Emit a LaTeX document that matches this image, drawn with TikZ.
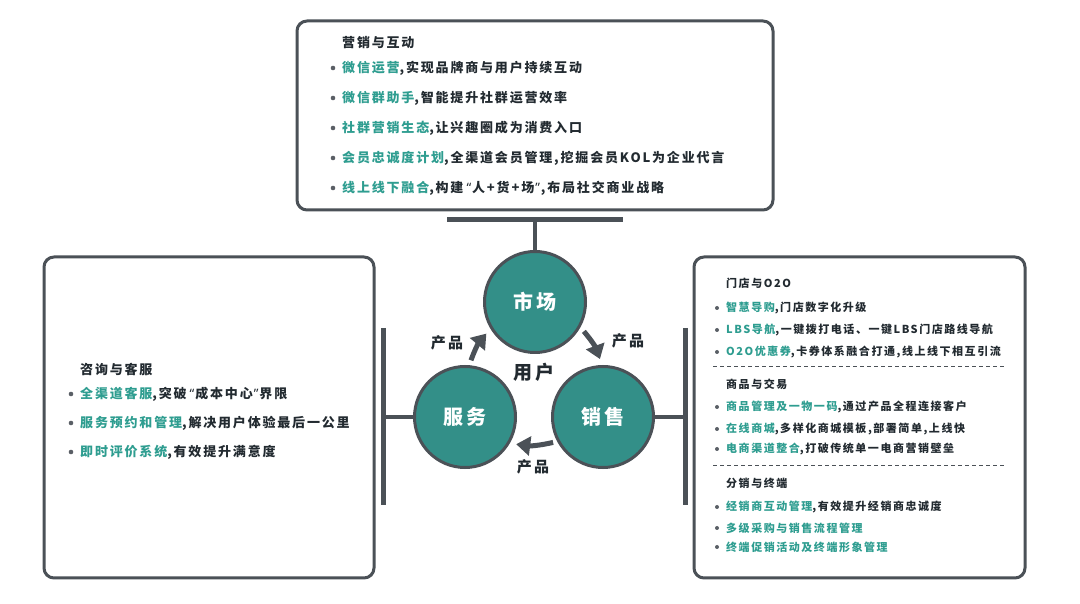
\documentclass[tikz,border=0pt]{standalone}
\usepackage{fontspec}
\setmainfont{Noto Sans CJK SC}[LetterSpace=14]
\newfontfamily\latn{Noto Sans}[LetterSpace=14]
\usetikzlibrary{arrows.meta, calc}
\definecolor{cline}{HTML}{4B5157}
\definecolor{cteal}{HTML}{338F88}
\definecolor{cgreen}{HTML}{2E9D90}
\definecolor{ctext}{HTML}{222A30}
\definecolor{cdot}{HTML}{5A5F66}
\newcommand{\qopen}{\kern3pt{\latn “}\kern1pt}
\newcommand{\qclose}{\kern1pt{\latn ”}\kern1pt}
\tikzset{
  panel/.style={draw=cline, line width=3pt, rounded corners=10pt, fill=white},
  hub/.style={circle, draw=cline, line width=3pt, fill=cteal, minimum size=101pt, inner sep=0pt, text=white, font=\bfseries\fontsize{20}{20}\selectfont},
  bar/.style={draw=cline, line width=5pt},
  stem/.style={draw=cline, line width=4pt},
  flow/.style={-{Triangle[length=14pt, width=19pt]}, draw=cline, line width=5pt},
  item/.style={anchor=west, inner sep=0pt, text=ctext, font=\bfseries\fontsize{13}{13}\selectfont},
  small/.style={item, font=\bfseries\fontsize{11}{11}\selectfont},
  tag/.style={text=ctext, font=\bfseries\fontsize{15}{15}\selectfont},
  sep/.style={draw=cline, line width=1pt, dash pattern=on 4pt off 3pt},
}

\begin{document}
\begin{tikzpicture}[x=1pt, y=1pt]
  \useasboundingbox[fill=white] (0,0) rectangle (1080,603);
  % three panels
  \draw[panel] (297,393) rectangle (773,582);
  \draw[panel] (44,25) rectangle (374,346);
  \draw[panel] (694,25) rectangle (1025,346);

  % top panel
  \node[item] (toph) at (342,560) {营销与互动};
  \foreach \hl/\rest [count=\i] in {{微信运营}/{,实现品牌商与用户持续互动},
      {微信群助手}/{,智能提升社群运营效率},
      {社群营销生态}/{,让兴趣圈成为消费入口},
      {会员忠诚度计划}/{,全渠道会员管理,挖掘会员KOL为企业代言},
      {线上线下融合}/{,构建\qopen 人+货+场\qclose,布局社交商业战略}} {
    \node[item] (top\i) at (342,565-30*\i) {\textcolor{cgreen}{\hl}\rest};
    \fill[cdot] ([xshift=-9pt]top\i.west) circle (2.3pt);
  }

  % left panel
  \node[item] (lefth) at (80,234) {咨询与客服};
  \foreach \hl/\rest [count=\i] in {{全渠道客服}/{,突破\qopen 成本中心\qclose 界限},
      {服务预约和管理}/{,解决用户体验最后一公里},
      {即时评价系统}/{,有效提升满意度}} {
    \node[item] (left\i) at (80,238-29*\i) {\textcolor{cgreen}{\hl}\rest};
    \fill[cdot] ([xshift=-9pt]left\i.west) circle (2.3pt);
  }

  % right panel, three groups
  \node[small] (righth1) at (726,320) {门店与O2O};
  \node[small] (righth2) at (726,219) {商品与交易};
  \node[small] (righth3) at (726,120) {分销与终端};
  \foreach \y/\hl/\rest [count=\i] in {295/{智慧导购}/{,门店数字化升级},
      273/{LBS导航}/{,一键拨打电话、一键LBS门店路线导航},
      251/{O2O优惠券}/{,卡券体系融合打通,线上线下相互引流},
      196/{商品管理及一物一码}/{,通过产品全程连接客户},
      174/{在线商城}/{,多样化商城模板,部署简单,上线快},
      154/{电商渠道整合}/{,打破传统单一电商营销壁垒},
      96/{经销商互动管理}/{,有效提升经销商忠诚度},
      75/{多级采购与销售流程管理}/{},
      56/{终端促销活动及终端形象管理}/{}} {
    \node[small] (right\i) at (726,\y) {\textcolor{cgreen}{\hl}\rest};
    \fill[cdot] ([xshift=-9pt]right\i.west) circle (2pt);
  }
  \draw[sep] (713,236) -- (1005,236);
  \draw[sep] (713,137) -- (1005,137);

  % hubs
  \node[hub] (shichang) at (535,301) {市场};
  \node[hub] (fuwu) at (465,186) {服务};
  \node[hub] (xiaoshou) at (603,186) {销售};
  \node[text=ctext, font=\bfseries\fontsize{19}{19}\selectfont] (yonghu) at (534,231) {用户};

  % bars and stems
  \coordinate (topbar) at (535,383);
  \coordinate (leftbar) at (383,186);
  \coordinate (rightbar) at (685,186);
  \draw[bar] (447,383) -- (623,383);
  \draw[bar] (383,275) -- (383,98);
  \draw[bar] (685,275) -- (685,98);
  \draw[stem] (topbar) -- (shichang.north);
  \draw[stem] (leftbar) -- (fuwu.west);
  \draw[stem] (rightbar) -- (xiaoshou.east);

  % product flow
  \draw[flow] ($(fuwu)+(84:57)$) to[bend left=10] ($(shichang)+(213:58)$);
  \draw[flow] ($(shichang)+(329:57)$) to[bend left=10] ($(xiaoshou)+(93:58)$);
  \draw[flow] ($(xiaoshou)+(207:56)$) to[bend left=10] ($(fuwu)+(332:58)$);
  \node[tag] (p1) at (447,260) {产品};
  \node[tag] (p2) at (628,262) {产品};
  \node[tag] (p3) at (533,136) {产品};
\end{tikzpicture}
\end{document}
